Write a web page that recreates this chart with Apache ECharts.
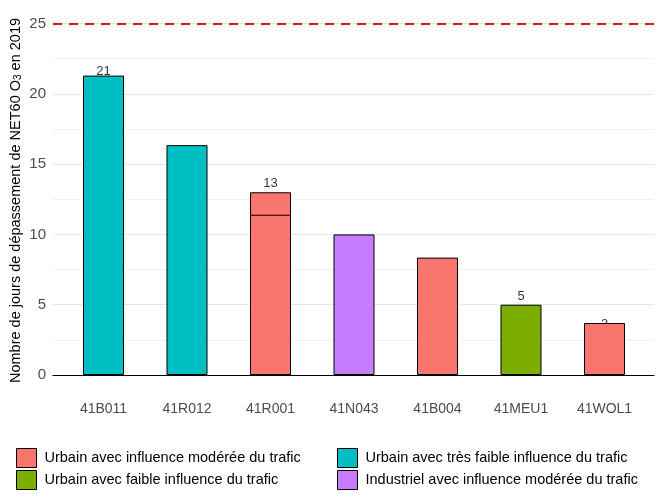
<!DOCTYPE html>
<html>
<head>
<meta charset="utf-8">
<script src="https://cdn.jsdelivr.net/npm/echarts@6/dist/echarts.min.js"></script>
<style>html,body{margin:0;padding:0;background:#fff;}#c{width:662px;height:500px;}</style>
</head>
<body>
<div id="c"></div>
<script>
const categories = ['41B011', '41R012', '41R001', '41N043', '41B004', '41MEU1', '41WOL1'];
// Values per station type
const modereeHigh = [null, null, 13, null, null, null, null];
const moderee = [null, null, 11.4, null, 8.35, null, 3.7];
const tresFaible = [21.3, 16.35, null, null, null, null, null];
const faible = [null, null, null, null, null, 5, null];
const industriel = [null, null, null, 10, null, null, null];
const labelValues = [21, null, 13, null, null, 5, 3];
const threshold = 25;
const yTicks = [0, 5, 10, 15, 20, 25];

const names = {
  mod: 'Urbain avec influence modérée du trafic',
  tf: 'Urbain avec très faible influence du trafic',
  f: 'Urbain avec faible influence du trafic',
  ind: 'Industriel avec influence modérée du trafic'
};
const colors = { mod: '#F8766D', tf: '#00BFC4', f: '#7CAE00', ind: '#C77CFF' };
const font = 'Liberation Sans, Arial, sans-serif';

function bar(name, color, data) {
  return {
    type: 'bar', name: name, xAxisIndex: 1, yAxisIndex: 1, data: data,
    barWidth: 41, barGap: '-100%', z: 3,
    itemStyle: { color: color, borderColor: '#000', borderWidth: 1 }
  };
}
function legend(name, left, top) {
  return {
    left: left, top: top, orient: 'horizontal', itemWidth: 20, itemHeight: 19, padding: 0,
    data: [name], icon: 'rect', selectedMode: false,
    itemStyle: { borderColor: '#000', borderWidth: 1 },
    textStyle: { color: '#000', fontSize: 14.5, fontFamily: font, padding: [0, 0, 0, 3] }
  };
}

const chart = echarts.init(document.getElementById('c'), null, { renderer: 'canvas' });
chart.setOption({
  backgroundColor: '#fff',
  animation: false,
  grid: [
    { left: 53, right: 8, top: 6, bottom: 125, containLabel: false, outerBoundsMode: 'none' },
    { left: 61.75, right: 15.75, top: 6, bottom: 125, containLabel: false, outerBoundsMode: 'none' }
  ],
  xAxis: [
    { gridIndex: 0, type: 'value', min: 0, max: 1,
      axisLine: { show: true, onZero: false, lineStyle: { color: '#000', width: 1.2 } },
      axisTick: { show: false }, axisLabel: { show: false }, splitLine: { show: false } },
    { gridIndex: 1, type: 'category', data: categories,
      axisLine: { show: false }, axisTick: { show: false }, splitLine: { show: false },
      axisLabel: { color: '#4d4d4d', fontSize: 14, fontFamily: font, margin: 27 } }
  ],
  yAxis: [
    { gridIndex: 0, type: 'value', min: 0, max: 26.25, interval: 2.5,
      name: 'Nombre de jours de dépassement de NET60 O{sub|3} en 2019',
      nameLocation: 'middle', nameGap: 30, nameRotate: 90, nameMoveOverlap: false,
      nameTextStyle: { color: '#000', fontSize: 14.5, fontFamily: font, padding: [0, 20, 0, 0],
        rich: { sub: { fontSize: 10, fontFamily: font, color: '#000', padding: [0, 0, -6, 0] } } },
      axisLine: { show: false }, axisTick: { show: false },
      axisLabel: { color: '#4d4d4d', fontSize: 15, fontFamily: font, margin: 7, showMaxLabel: false,
        formatter: v => (yTicks.indexOf(v) >= 0 ? String(v) : '') },
      splitLine: { show: true, showMaxLine: false, lineStyle: { color: ['#e6e6e6', '#f0f0f0'], width: 1 } } },
    { gridIndex: 1, type: 'value', min: 0, max: 26.25, show: false, splitLine: { show: false } }
  ],
  legend: [
    legend(names.mod, 16, 448),
    legend(names.f, 16, 470),
    legend(names.tf, 337, 448),
    legend(names.ind, 337, 470)
  ],
  series: [
    { type: 'line', xAxisIndex: 0, yAxisIndex: 0, data: [], silent: true,
      markLine: { symbol: 'none', silent: true, label: { show: false },
        lineStyle: { color: '#d7191c', type: [9, 7], width: 2.2 },
        data: [{ yAxis: threshold }] } },
    { type: 'scatter', xAxisIndex: 1, yAxisIndex: 1, data: labelValues, symbolSize: 0, z: 1,
      label: { show: true, position: 'top', distance: 2, color: '#000', fontSize: 13, fontFamily: font,
        formatter: p => String(p.value) } },
    bar(names.mod, colors.mod, modereeHigh),
    bar(names.mod, colors.mod, moderee),
    bar(names.tf, colors.tf, tresFaible),
    bar(names.f, colors.f, faible),
    bar(names.ind, colors.ind, industriel)
  ]
});
</script>
</body>
</html>
